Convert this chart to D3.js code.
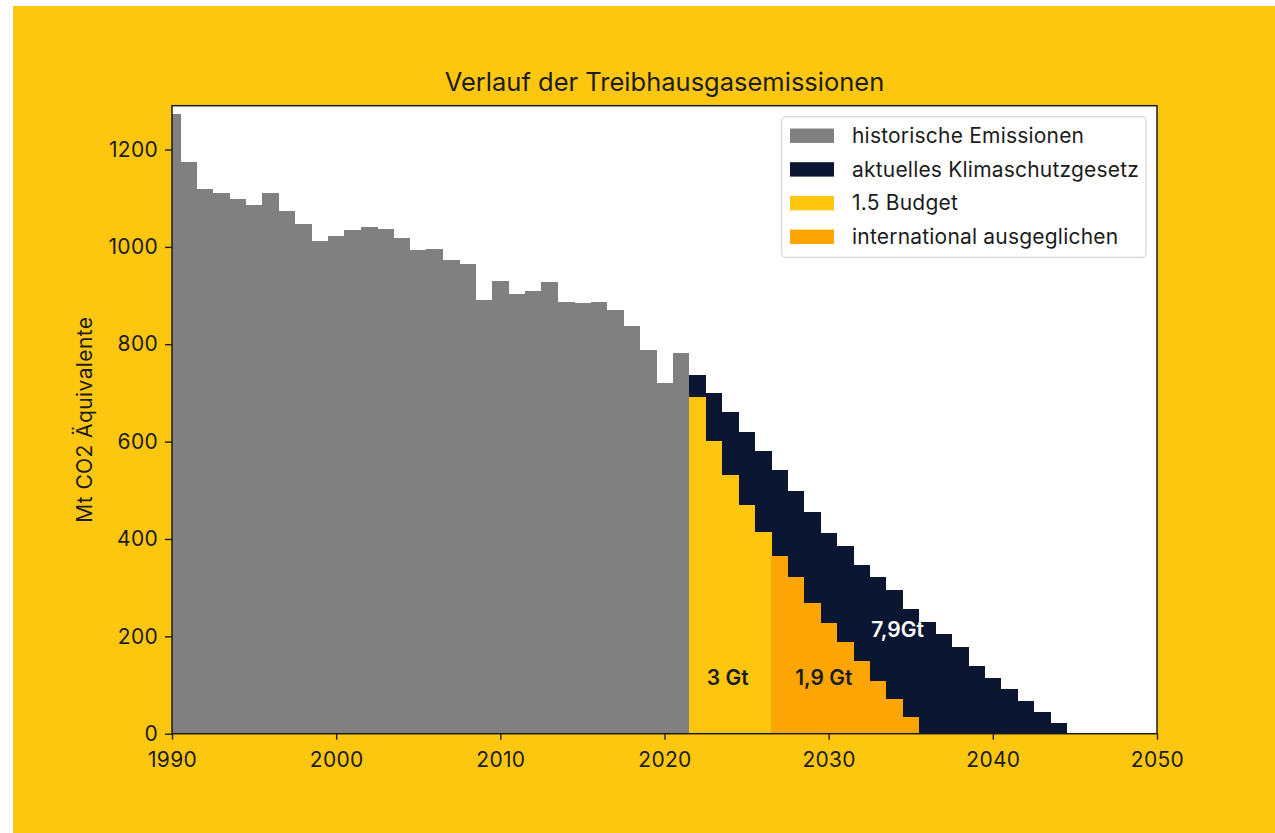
<!DOCTYPE html>
<html lang="de">
<head>
<meta charset="utf-8">
<title>Verlauf der Treibhausgasemissionen</title>
<script src="https://cdn.jsdelivr.net/npm/d3@7"></script>
<style>
  html, body { margin: 0; padding: 0; background: #ffffff; }
  svg { display: block; }
  text { font-family: Inter, "DejaVu Sans", sans-serif; fill: #1c1c1c; }
</style>
</head>
<body>
<svg id="chart" width="1275" height="833"></svg>
<script>
// Annual emissions in Mt CO2 equivalents
const histStart = 1990;
const historisch = [1272, 1175, 1118, 1110, 1099, 1087, 1110, 1074, 1048, 1013,
                    1022, 1034, 1040, 1037, 1018, 993, 995, 974, 964, 891,
                    930, 904, 909, 927, 887, 885, 887, 871, 837, 789,
                    721, 781];

const ksgStart = 2022;
const klimaschutzgesetz = [737, 700, 660, 620, 581, 541, 499, 456, 413, 385,
                           346, 321, 295, 256, 230, 204, 179, 139, 114, 91,
                           68, 45, 21];

const budgetStart = 2022;
const budget15 = [692, 601, 531, 470, 415];

const intStart = 2027;
const international = [365, 322, 268, 228, 188, 149, 109, 71, 34];

const xTicks = [1990, 2000, 2010, 2020, 2030, 2040, 2050];
const yTicks = [0, 200, 400, 600, 800, 1000, 1200];

const legendLabels = ["historische Emissionen", "aktuelles Klimaschutzgesetz",
                      "1.5 Budget", "international ausgeglichen"];
const areaLabels = ["3 Gt", "1,9 Gt", "7,9Gt"];

const colors = {
  page: "#fec70f",
  hist: "#808080",
  ksg: "#0b1633",
  budget: "#fec60f",
  intl: "#fca503"
};

const svg = d3.select("#chart");

// page background with a thin white margin on the left and top
svg.append("rect").attr("x", 0).attr("y", 0).attr("width", 1275).attr("height", 833).attr("fill", "#ffffff");
svg.append("rect").attr("x", 13).attr("y", 6).attr("width", 1262).attr("height", 827).attr("fill", colors.page);

const plot = { left: 172, right: 1157, top: 105.7, bottom: 733.7 };

const x = d3.scaleLinear().domain([1990, 2050]).range([plot.left, plot.right]);
const y = d3.scaleLinear().domain([0, 1290]).range([plot.bottom, plot.top]);

svg.append("defs").append("clipPath").attr("id", "plotClip")
  .append("rect")
  .attr("x", plot.left).attr("y", plot.top)
  .attr("width", plot.right - plot.left).attr("height", plot.bottom - plot.top);

// white plotting area
svg.append("rect")
  .attr("x", plot.left).attr("y", plot.top)
  .attr("width", plot.right - plot.left).attr("height", plot.bottom - plot.top)
  .attr("fill", "#ffffff");

const bars = svg.append("g").attr("clip-path", "url(#plotClip)");

function drawSeries(values, start, color) {
  bars.append("g").selectAll("rect")
    .data(values.map((v, i) => ({ year: start + i, value: v })))
    .join("rect")
    .attr("x", d => x(d.year - 0.5))
    .attr("width", d => x(d.year + 0.5) - x(d.year - 0.5) + 0.3)
    .attr("y", d => y(d.value))
    .attr("height", d => y(0) - y(d.value))
    .attr("fill", color)
    .attr("shape-rendering", "crispEdges");
}

drawSeries(historisch, histStart, colors.hist);
drawSeries(klimaschutzgesetz, ksgStart, colors.ksg);
drawSeries(budget15, budgetStart, colors.budget);
drawSeries(international, intStart, colors.intl);

// labels inside the areas
const labelSpec = [
  { text: areaLabels[0], year: 2023.85, value: 100, fill: "#1c1c1c" },
  { text: areaLabels[1], year: 2029.7, value: 100, fill: "#1c1c1c" },
  { text: areaLabels[2], year: 2034.2, value: 199, fill: "#ffffff" }
];
svg.append("g").selectAll("text")
  .data(labelSpec)
  .join("text")
  .attr("x", d => x(d.year))
  .attr("y", d => y(d.value))
  .attr("text-anchor", "middle")
  .attr("font-size", 21)
  .attr("font-weight", 600)
  .style("fill", d => d.fill)
  .text(d => d.text);

// axes
const xAxis = d3.axisBottom(x).tickValues(xTicks).tickFormat(d3.format("d")).tickSize(6).tickPadding(12);
const yAxis = d3.axisLeft(y).tickValues(yTicks).tickFormat(d3.format("d")).tickSize(7).tickPadding(7);

const gx = svg.append("g").attr("transform", `translate(0,${plot.bottom})`).call(xAxis);
const gy = svg.append("g").attr("transform", `translate(${plot.left},0)`).call(yAxis);
[gx, gy].forEach(g => {
  g.select(".domain").remove();
  g.selectAll(".tick line").attr("stroke", "#1c1c1c").attr("stroke-width", 1.4);
  g.selectAll(".tick text")
    .attr("font-size", 21)
    .attr("letter-spacing", "0.3px")
    .attr("font-family", "Inter, sans-serif")
    .style("fill", "#1c1c1c");
});

// frame around the plotting area
svg.append("rect")
  .attr("x", plot.left).attr("y", plot.top)
  .attr("width", plot.right - plot.left).attr("height", plot.bottom - plot.top)
  .attr("fill", "none").attr("stroke", "#1c1c1c").attr("stroke-width", 1.5);

// title
svg.append("text")
  .attr("x", (plot.left + plot.right) / 2)
  .attr("y", 90.7)
  .attr("text-anchor", "middle")
  .attr("font-size", 25.5)
  .text("Verlauf der Treibhausgasemissionen");

// y axis title
svg.append("text")
  .attr("transform", `translate(92,${(plot.top + plot.bottom) / 2}) rotate(-90)`)
  .attr("text-anchor", "middle")
  .attr("font-size", 21)
  .attr("letter-spacing", "0.4px")
  .text("Mt CO2 Äquivalente");

// legend
const legend = svg.append("g");
legend.append("rect")
  .attr("x", 781.7).attr("y", 116.7)
  .attr("width", 364.3).attr("height", 140.6)
  .attr("rx", 4)
  .attr("fill", "#ffffff")
  .attr("stroke", "#d6d6d6")
  .attr("stroke-width", 1.2);

const legendColors = [colors.hist, colors.ksg, colors.budget, colors.intl];
const rows = legend.selectAll("g.row")
  .data(legendLabels.map((t, i) => ({ text: t, color: legendColors[i], i })))
  .join("g")
  .attr("class", "row")
  .attr("transform", d => `translate(790,${135.7 + d.i * 33.7})`);
rows.append("rect")
  .attr("x", 0).attr("y", -7.2)
  .attr("width", 44).attr("height", 14.4)
  .attr("fill", d => d.color);
rows.append("text")
  .attr("x", 62).attr("y", 0)
  .attr("dy", "0.35em")
  .attr("font-size", 21)
  .attr("letter-spacing", "0.2px")
  .text(d => d.text);
</script>
</body>
</html>
